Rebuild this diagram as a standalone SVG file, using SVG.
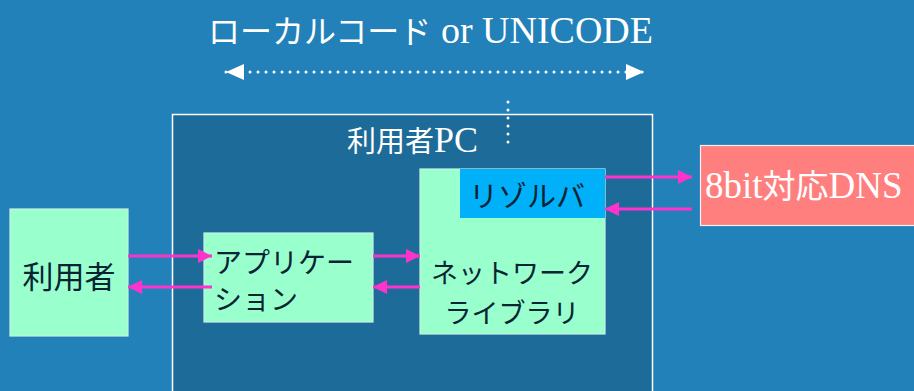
<svg xmlns="http://www.w3.org/2000/svg" width="914" height="391" viewBox="0 0 914 391">
<style>
.node{fill:#99ffcc;stroke:#c8f0e4;stroke-width:1.2}
.lbl{font-family:"Noto Sans CJK JP",sans-serif;fill:#082434}
.wt{font-family:"Liberation Serif","Noto Sans CJK JP",serif;fill:#ffffff}
.cjk{font-family:"Noto Sans CJK JP",sans-serif}
.mg{stroke:#ff33cc;stroke-width:3;fill:none;marker-end:url(#ah)}
.dot{stroke:#ffffff;stroke-width:3;stroke-linecap:round;stroke-dasharray:0 8;fill:none}
</style>
<defs>
<marker id="ah" viewBox="0 0 14 14" refX="14" refY="7" markerWidth="14" markerHeight="14" markerUnits="userSpaceOnUse" orient="auto">
<path d="M0,0 L14,7 L0,14 z" fill="#ff33cc"/>
</marker>
<marker id="wh" viewBox="0 0 18 16" refX="18" refY="8" markerWidth="18" markerHeight="16" markerUnits="userSpaceOnUse" orient="auto-start-reverse">
<path d="M0,0 L18,8 L0,16 z" fill="#ffffff"/>
</marker>
</defs>
<rect x="0" y="0" width="914" height="391" fill="#2281b8"/>
<g id="title">
<text class="wt" x="208" y="43" font-size="38"><tspan class="cjk" font-size="32">ローカルコード</tspan> or UNICODE</text>
</g>
<g id="pc">
<rect x="172.5" y="114.5" width="480" height="290" fill="#1d6b98" stroke="#ffffff" stroke-width="1.5"/>
<text class="wt" x="347" y="152" font-size="36"><tspan class="cjk" font-size="29">利用者</tspan>PC</text>
</g>
<g id="user">
<rect class="node" x="10" y="209" width="118" height="127"/>
<text class="lbl" x="69" y="288" font-size="31" text-anchor="middle">利用者</text>
</g>
<g id="app">
<rect class="node" x="204" y="233" width="169" height="89"/>
<text class="lbl" x="214" y="273" font-size="28">アプリケー</text>
<text class="lbl" x="214" y="310" font-size="28">ション</text>
</g>
<g id="netlib">
<rect class="node" x="420" y="169" width="185" height="165"/>
<text class="lbl" x="512" y="283" font-size="27" text-anchor="middle">ネットワーク</text>
<text class="lbl" x="512" y="323" font-size="27" text-anchor="middle">ライブラリ</text>
</g>
<g id="resolver">
<rect x="460" y="169" width="145" height="49" fill="#00b0f8"/>
<text class="lbl" x="527" y="207" font-size="29" text-anchor="middle">リゾルバ</text>
</g>
<g id="dns">
<rect x="700.5" y="145.5" width="220" height="80" fill="#ff7f7f" stroke="#f0f0f0" stroke-width="1.2"/>
<text class="wt" x="705" y="198" font-size="37">8bit<tspan class="cjk" font-size="33">対応</tspan>DNS</text>
</g>
<g id="connectors">
<line class="dot" x1="226" y1="72" x2="644" y2="72" marker-start="url(#wh)" marker-end="url(#wh)"/>
<line class="dot" x1="508" y1="102" x2="508" y2="144"/>
<line class="mg" x1="128" y1="256" x2="212" y2="256"/>
<line class="mg" x1="212" y1="287" x2="128" y2="287"/>
<line class="mg" x1="373" y1="256" x2="420" y2="256"/>
<line class="mg" x1="420" y1="287" x2="373" y2="287"/>
<line class="mg" x1="605" y1="177" x2="692" y2="177"/>
<line class="mg" x1="692" y1="209" x2="605" y2="209"/>
</g>
</svg>
